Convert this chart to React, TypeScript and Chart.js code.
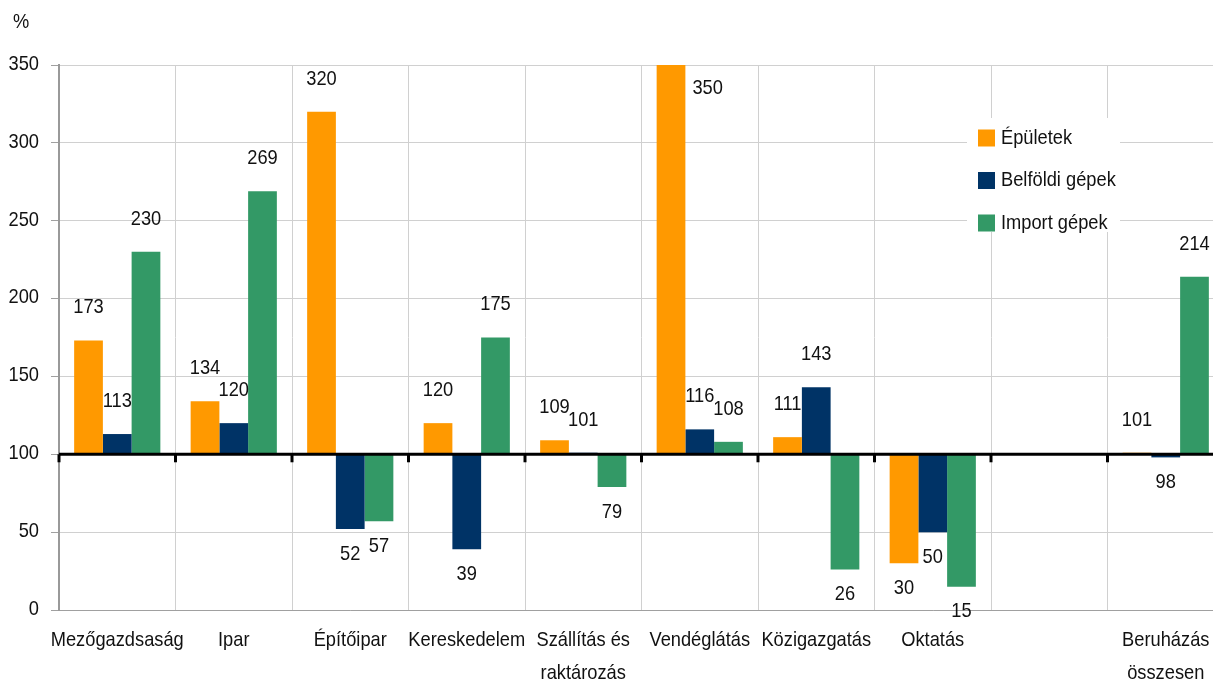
import { useEffect, useRef } from "react";
import { Chart, registerables } from "chart.js";

Chart.register(...registerables);

const categories: (string | string[])[] = [
  "Mezőgazdsaság",
  "Ipar",
  "Építőipar",
  "Kereskedelem",
  ["Szállítás és", "raktározás"],
  "Vendéglátás",
  "Közigazgatás",
  "Oktatás",
  "",
  ["Beruházás", "összesen"],
];
const seriesNames = ["Épületek", "Belföldi gépek", "Import gépek"];
const seriesColors = ["#FF9900", "#003366", "#339966"];
const epuletek = [173, 134, 320, 120, 109, 350, 111, 30, null, 101];
const belfoldiGepek = [113, 120, 52, 39, 101, 116, 143, 50, null, 98];
const importGepek = [230, 269, 57, 175, 79, 108, 26, 15, null, 214];
const yTickValues = [0, 50, 100, 150, 200, 250, 300, 350];
const yMin = 0;
const yMax = 350;
const yStep = 50;
const baseValue = 100;
const unitLabel = "%";

const FONT = '"Liberation Sans", Arial, sans-serif';
const FONT_SIZE = 21;
const SX = 0.87;
const TEXT = "#111111";
const CW = 1224;
const CH = 682;

function drawText(ctx: CanvasRenderingContext2D, text: string, x: number, y: number, align: CanvasTextAlign) {
  ctx.save();
  ctx.translate(x, y);
  ctx.scale(SX, 1);
  ctx.textAlign = align;
  ctx.fillText(text, 0, 0);
  ctx.restore();
}

const overlayPlugin = {
  id: "overlay",
  afterDatasetsDraw(chart: any) {
    const ctx = chart.ctx as CanvasRenderingContext2D;
    const area = chart.chartArea;
    const ys = chart.scales.y;
    const xs = chart.scales.x;
    const yb = ys.getPixelForValue(baseValue);
    ctx.save();
    // base line at 100
    ctx.strokeStyle = "#000";
    ctx.lineWidth = 3;
    ctx.beginPath();
    ctx.moveTo(area.left, yb);
    ctx.lineTo(area.right, yb);
    ctx.stroke();
    const n = categories.length;
    const cw = (area.right - area.left) / n;
    for (let k = 0; k < n; k++) {
      const x = area.left + k * cw;
      ctx.beginPath();
      ctx.moveTo(x, yb);
      ctx.lineTo(x, yb + 8);
      ctx.stroke();
    }
    ctx.font = `${FONT_SIZE}px ${FONT}`;
    ctx.fillStyle = TEXT;
    ctx.textBaseline = "middle";
    // data labels
    chart.data.datasets.forEach((ds: any, i: number) => {
      const meta = chart.getDatasetMeta(i);
      meta.data.forEach((el: any, j: number) => {
        const v = ds.data[j];
        if (v === null || v === undefined) return;
        const text = String(v);
        if (v >= baseValue) {
          const ty = el.y - 33;
          if (ty < area.top + 8) {
            drawText(ctx, text, el.x + el.width / 2 + 7, area.top + 23, "left");
          } else {
            drawText(ctx, text, el.x, ty, "center");
          }
        } else {
          drawText(ctx, text, el.x, el.y + 25, "center");
        }
      });
    });
    // y tick labels
    yTickValues.forEach((v) => {
      drawText(ctx, String(v), area.left - 20, ys.getPixelForValue(v) - 1, "right");
    });
    // x tick labels
    categories.forEach((c, i) => {
      const lines = Array.isArray(c) ? c : [c];
      const x = xs.getPixelForValue(i);
      lines.forEach((line, k) => {
        drawText(ctx, line, x, area.bottom + 30 + k * 33, "center");
      });
    });
    // unit label
    drawText(ctx, unitLabel, 21, 22, "center");
    // legend
    const lx = 967, ly = 118, lw = 153, lh = 114;
    ctx.fillStyle = "#ffffff";
    ctx.fillRect(lx, ly, lw, lh);
    seriesNames.forEach((name, i) => {
      const cy = ly + 20 + i * 42.5;
      ctx.fillStyle = seriesColors[i];
      ctx.fillRect(lx + 11, cy - 8.5, 17, 17);
      ctx.fillStyle = TEXT;
      drawText(ctx, name, lx + 34, cy, "left");
    });
    ctx.restore();
  },
};

export default function App() {
  const ref = useRef<HTMLCanvasElement | null>(null);
  useEffect(() => {
    document.body.style.margin = "0";
    document.body.style.overflow = "hidden";
    if (!ref.current) return;
    const values = [epuletek, belfoldiGepek, importGepek];
    const chart = new Chart(ref.current, {
      type: "bar",
      data: {
        labels: categories as any,
        datasets: seriesNames.map((name, i) => ({
          label: name,
          data: values[i] as any,
          backgroundColor: seriesColors[i],
          borderWidth: 0,
          base: baseValue,
          categoryPercentage: 0.74,
          barPercentage: 1,
        })),
      },
      options: {
        animation: false,
        responsive: false,
        maintainAspectRatio: false,
        layout: { padding: { top: 65, right: 0, left: 0, bottom: 0 } },
        plugins: {
          legend: { display: false },
          tooltip: { enabled: false },
        },
        scales: {
          x: {
            type: "category",
            offset: true,
            grid: {
              display: true,
              offset: true,
              color: "#d0d0d0",
              drawTicks: false,
              lineWidth: 1,
            },
            border: { display: true, color: "#a0a0a0", width: 1 },
            ticks: { display: false, autoSkip: false },
            afterFit: (s: any) => {
              s.height = 72;
            },
          },
          y: {
            min: yMin,
            max: yMax,
            ticks: { stepSize: yStep, display: false },
            grid: {
              color: "#d0d0d0",
              tickLength: 8,
              tickColor: "#a0a0a0",
              drawTicks: true,
            },
            border: { display: true, color: "#999999", width: 2 },
            afterFit: (s: any) => {
              s.width = 59;
            },
          },
        },
      } as any,
      plugins: [overlayPlugin],
    });
    return () => chart.destroy();
  }, []);
  return (
    <div style={{ position: "fixed", left: 0, top: 0, width: CW, height: CH }}>
      <canvas ref={ref} width={CW} height={CH} style={{ width: CW, height: CH }} />
    </div>
  );
}
